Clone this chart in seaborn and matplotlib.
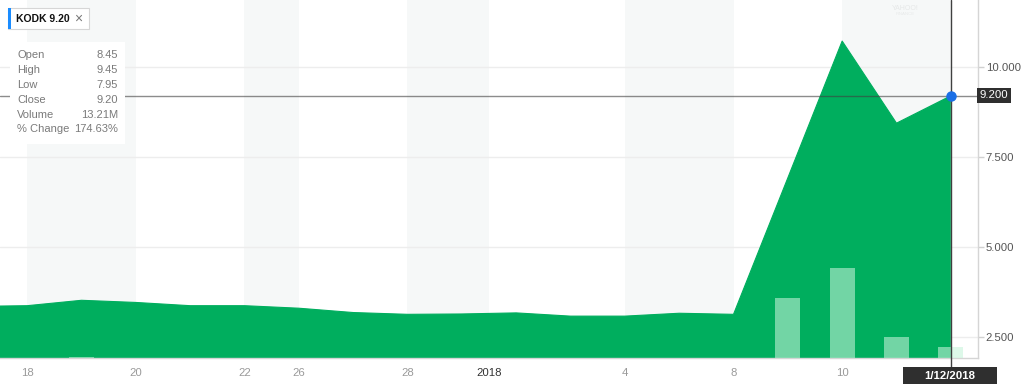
import numpy as np
import matplotlib
matplotlib.use("Agg")
import matplotlib.pyplot as plt
import seaborn as sns
from matplotlib.patches import Rectangle

# ---------------- data ----------------
dates = ["12/15", "12/18", "12/19", "12/20", "12/21", "12/22", "12/26", "12/27",
         "12/28", "12/29", "1/2", "1/3", "1/4", "1/5", "1/8", "1/9", "1/10",
         "1/11", "1/12"]
close = [3.35, 3.37, 3.52, 3.46, 3.37, 3.37, 3.30, 3.18, 3.13, 3.14, 3.17,
         3.08, 3.08, 3.16, 3.13, 6.92, 10.72, 8.44, 9.20]
volume_m = [0.5, 0.6, 1.6, 0.6, 0.5, 0.5, 0.5, 0.5, 0.5, 0.5, 0.5, 0.5, 0.5,
            0.5, 0.6, 72.1, 108.1, 24.9, 13.21]
tick_pos = [1, 3, 5, 6, 8, 9.5, 12, 14, 16]
tick_labels = ["18", "20", "22", "26", "28", "2018", "4", "8", "10"]
y_ticks = [2.5, 5.0, 7.5, 10.0]
bands = [(1, 3), (5, 6), (8, 9.5), (12, 14), (16, 18)]
info_labels = ["Open", "High", "Low", "Close", "Volume", "% Change"]
info_values = ["8.45", "9.45", "7.95", "9.20", "13.21M", "174.63%"]
ticker = "KODK"
last_close = 9.20
last_date = "1/12/2018"

# ---------------- style ----------------
sns.set_style("white")
plt.rcParams["font.family"] = ["Liberation Sans", "DejaVu Sans"]

GREEN = "#00ae5e"
W, H = 1024, 384
fig = plt.figure(figsize=(W / 100, H / 100), dpi=100)
fig.patch.set_facecolor("white")


def fx(p):
    return p / W


def fy(p):
    return 1 - p / H


ax = fig.add_axes([0, 26 / H, 978 / W, 358 / H])
x = np.arange(len(dates))

for a, b in bands:
    ax.axvspan(a, b, color="#f6f8f8", lw=0, zorder=0)

ax.set_axisbelow(True)
ax.yaxis.grid(True, color="#ededed", lw=1)
ax.xaxis.grid(False)

ax.fill_between(x, close, 0, color=GREEN, lw=0, zorder=2)
sns.lineplot(x=x, y=close, ax=ax, color=GREEN, lw=0.8, zorder=3)

ax.set_xlim(0.5, 18.5)
ax.set_ylim(1.917, 11.861)

# volume on twin axis
ax2 = ax.twinx()
sns.barplot(x=x, y=volume_m, ax=ax2, native_scale=True, color="#c5f3da",
            saturation=1, alpha=0.58, width=0.46, errorbar=None, lw=0)
ax2.set_ylim(0, 430)
ax2.set_xlim(0.5, 18.5)
ax2.set_axis_off()

# crosshair
ax2.plot([0.5, 18.5], [last_close, last_close], transform=ax.transData,
         color="#404040", alpha=0.6, lw=1, zorder=5)
ax2.axvline(18, ymin=-0.03, ymax=1, color="#404040", lw=1, clip_on=False,
            zorder=5)
ax2.plot([18], [last_close], transform=ax.transData, marker="o", ms=6.5,
         color="#1a6fe6", mec="#1a6fe6", zorder=6, clip_on=False)

# axes styling
ax.yaxis.tick_right()
ax.set_yticks(y_ticks)
ax.set_yticklabels([f"{v:.3f}" for v in y_ticks])
ax.set_xticks(tick_pos)
ax.set_xticklabels(tick_labels)
ax.tick_params(axis="y", direction="out", length=4, color="#d0d0d0",
               labelcolor="#555555", labelsize=8.2, pad=1.5, width=1)
ax.tick_params(axis="x", direction="out", length=5, color="#d0d0d0",
               labelcolor="#9a9a9a", labelsize=8.2, pad=2, width=1)
for lbl in ax.get_xticklabels():
    if lbl.get_text() == "2018":
        lbl.set_color("#333333")
for s in ["top", "left"]:
    ax.spines[s].set_visible(False)
for s in ["right", "bottom"]:
    ax.spines[s].set_color("#d5d5d5")
    ax.spines[s].set_linewidth(1)
ax.set_xlabel("")
ax.set_ylabel("")

# value label on right
fig.patches.append(Rectangle((fx(977), fy(103)), 34 / W, 15 / H,
                             transform=fig.transFigure, fc="#2f2f2f",
                             ec="none", zorder=10))
fig.text(fx(994), fy(95.5), f"{last_close:.3f}", color="white", fontsize=8.2,
         ha="center", va="center", zorder=11)

# date label at bottom
fig.patches.append(Rectangle((fx(903), fy(386)), 94 / W, 19 / H,
                             transform=fig.transFigure, fc="#2f2f2f",
                             ec="none", zorder=10))
fig.text(fx(950), fy(376), last_date, color="white", fontsize=8.2,
         fontweight="bold", ha="center", va="center", zorder=11)

# ticker chip
fig.patches.append(Rectangle((fx(8), fy(29)), 81 / W, 21 / H,
                             transform=fig.transFigure, fc="white",
                             ec="#d6d6d6", lw=0.8, zorder=10))
fig.patches.append(Rectangle((fx(8), fy(29)), 2.5 / W, 21 / H,
                             transform=fig.transFigure, fc="#1a8cff",
                             ec="none", zorder=11))
fig.text(fx(15.5), fy(18.5), f"{ticker} {last_close:.2f}", color="#111111",
         fontsize=7.5, fontweight="bold", ha="left", va="center", zorder=12)
fig.text(fx(78.5), fy(18.5), "\u00d7", color="#777777", fontsize=10,
         ha="center", va="center", zorder=12)

# info tooltip
fig.patches.append(Rectangle((fx(10), fy(144)), 115 / W, 102 / H,
                             transform=fig.transFigure, fc="white",
                             ec="none", zorder=10))
rows_y = [55, 70, 85, 100, 115, 129.5]
for yy, lab, val in zip(rows_y, info_labels, info_values):
    fig.text(fx(17), fy(yy), lab, color="#7a7a7a", fontsize=8,
             ha="left", va="center", zorder=12)
    fig.text(fx(118), fy(yy), val, color="#7a7a7a", fontsize=8,
             ha="right", va="center", zorder=12)

# faint watermark
fig.text(fx(905), fy(8), "YAHOO!", color="#e6e8e8", fontsize=5,
         ha="center", va="center")
fig.text(fx(905), fy(14), "FINANCE", color="#e8eaea", fontsize=3.2,
         ha="center", va="center")

fig.savefig("out.png", dpi=100)
